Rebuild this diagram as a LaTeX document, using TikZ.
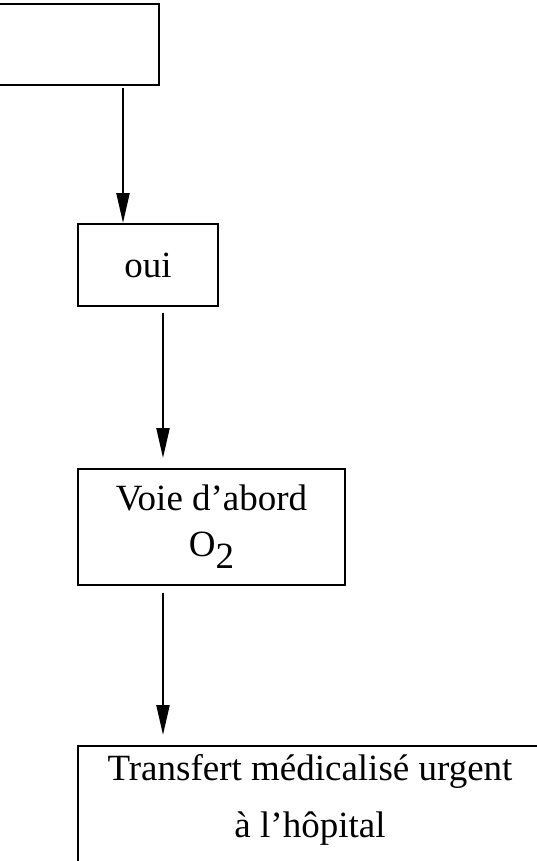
\documentclass[tikz,border=0pt]{standalone}
\usepackage{fontspec}
\setmainfont{Liberation Serif}
\usetikzlibrary{arrows.meta}
\begin{document}
\begin{tikzpicture}[x=1pt,y=-1pt,
  box/.style={draw, line width=2pt, rectangle, inner sep=0pt, align=center,
              font=\fontsize{37}{46}\selectfont},
  label text/.style={inner sep=0pt, align=center, font=\fontsize{37}{57}\selectfont},
  flow/.style={line width=2.2pt, -{Triangle[length=30pt,width=13pt]}},
]
\useasboundingbox (0,0) rectangle (536,861);

% boxes
\node[box, line width=2.7pt, minimum width=169pt, minimum height=81pt] (start) at (74.5,44.5) {};
\node[box, minimum width=140pt, minimum height=82pt] (oui) at (148,265) {oui};
\node[box, minimum width=267pt, minimum height=116pt] (voie) at (211.5,527)
  {Voie d’abord\\O\raisebox{-12pt}{2}};
\node[box, minimum width=464pt, minimum height=140pt] (transfert) at (310,816) {};
\node[label text] (transfertText) at (310,800) {Transfert médicalisé urgent\\à l’hôpital};

% vertical lanes of the connectors
\coordinate (laneA) at (123,0);
\coordinate (laneB) at (163,0);

% connectors
\draw[flow, shorten <=1.5pt] (start.south -| laneA) -- (oui.north -| laneA);
\draw[flow, shorten <=6pt, shorten >=10pt] (oui.south -| laneB) -- (voie.north -| laneB);
\draw[flow, shorten <=7pt, shorten >=10pt] (voie.south -| laneB) -- (transfert.north -| laneB);
\end{tikzpicture}
\end{document}
